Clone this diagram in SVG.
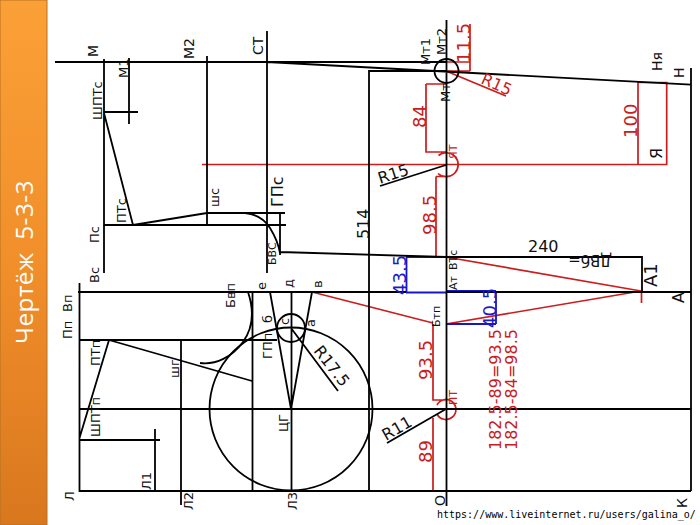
<svg xmlns="http://www.w3.org/2000/svg" width="700" height="525" viewBox="0 0 700 525">
<defs><linearGradient id="g" x1="0" y1="0" x2="0" y2="1"><stop offset="0" stop-color="#fba036"/><stop offset="0.5" stop-color="#f18f2b"/><stop offset="1" stop-color="#d9771f"/></linearGradient></defs>
<style>
.k{fill:none;stroke:#000;stroke-width:1.8}
.r{fill:none;stroke:#cc1c1c;stroke-width:1.7}
.b{fill:none;stroke:#1616c8;stroke-width:1.8}
text{font-family:"DejaVu Sans",sans-serif;fill:#111}
.tr{fill:#c82020}.tb{fill:#1a1ac8}
.s11{font-size:11px}.s12{font-size:12px}.s13{font-size:13px}.s14{font-size:14px}.s15{font-size:15px}.s16{font-size:16px}.s18{font-size:18px}
</style>
<rect width="700" height="525" fill="#fff"/>
<rect id="panel" x="0" y="0" width="47" height="525" fill="url(#g)" stroke="#b8701f" stroke-width="1"/>
<text id="title" transform="translate(33,344) rotate(-90)" style="font-family:'Open Sans',sans-serif;font-size:24.500px;letter-spacing:.4px;word-spacing:6px;fill:#fff">Чертёж 5-3-3</text>
<g id="connectors">
<path class="r" d="M202 164.500H666.700V82.500H638V164.500M446 62H470M446 71H470M470 24V71M446 71L506 96M426 84H446M426 84V152H446M436 176.500H446M436 176.500V257M312 292L433 323M446 324L641 291M446 257L641 291M641.500 292V303M433 324V400H446M433 418V490M438.500 155.500A12 12 0 1 1 438 173.500M437 405A10 10 0 1 1 437 414"/>
<path class="b" d="M406.500 257V292M406 257H446M406 292.500H446M496 291V324M446 291H496M446 324H496"/>
<path class="k" d="M55 62H447M104 59V273M129 58V124M104 112H138M104 113L133 225M104 225H286M207 56V225M267 31V273M267 62L691 84.700M691 68V491M369 491V71H446M446.500 20V506"/>
<path class="k" d="M133 225L207 213H245Q262 215 270 228T280 253M207 213H285M280 213V255M280 252L446 257H642V292M78 292H406M446 292H691M79.500 283V491H691M79 340H277M109 340L79.500 438M79 440H160M155 429V491M181 340V505M252.500 291V491M109 340L252 381M79 409H691M291.500 291V491M270 292L291 409L312 292M291 328L338 391M248 292C254 310 253 328 243 342C232 357 216 365 200 363"/>
<circle class="k" cx="291" cy="409" r="81.500"/><circle class="k" cx="291" cy="328" r="14"/><circle class="k" cx="446.500" cy="71" r="12"/>
<path class="k" d="M446 165L380 186M446 409L387 443"/>
</g>
<g id="labels">
<text class="s14" transform="translate(98,57) rotate(-90)">М</text>
<text class="s14" transform="translate(194,59) rotate(-90)">М2</text>
<text class="s14" transform="translate(263,55) rotate(-90)">СТ</text>
<text class="s13" transform="translate(128,78) rotate(-90)">М1</text>
<text class="s13" transform="translate(102,120) rotate(-90)">ШПТс</text>
<text class="s13" transform="translate(99,243) rotate(-90)">Пс</text>
<text class="s13" transform="translate(126,223) rotate(-90)">ПТс</text>
<text class="s13" transform="translate(219,207) rotate(-90)">шс</text>
<text class="s16" transform="translate(283,207) rotate(-90)">ГПс</text>
<text class="s11" transform="translate(276,265) rotate(-90)">БВС</text>
<text class="s13" transform="translate(99,283) rotate(-90)">Вс</text>
<text class="s13" transform="translate(72,312) rotate(-90)">Вп</text>
<text class="s13" transform="translate(72,339) rotate(-90)">Пп</text>
<text class="s13" transform="translate(100,366) rotate(-90)">ПТп</text>
<text class="s13" transform="translate(100,437) rotate(-90)">ШПТп</text>
<text class="s13" transform="translate(179,378) rotate(-90)">шг</text>
<text class="s13" transform="translate(235,308) rotate(-90)">Бвп</text>
<text class="s13" transform="translate(266,290) rotate(-90)">е</text>
<text class="s13" transform="translate(293,288) rotate(-90)">д</text>
<text class="s13" transform="translate(322,288) rotate(-90)">в</text>
<text class="s13" transform="translate(272,323) rotate(-90)">б</text>
<text class="s13" transform="translate(289,325) rotate(-90)">с</text>
<text class="s13" transform="translate(315,327) rotate(-90)">а</text>
<text class="s13" transform="translate(272,359) rotate(-90)">ГПп</text>
<text class="s13" transform="translate(151,490) rotate(-90)">Л1</text>
<text class="s13" transform="translate(74,501) rotate(-90)">Л</text>
<text class="s13" transform="translate(193,510) rotate(-90)">Л2</text>
<text class="s13" transform="translate(297,510) rotate(-90)">Л3</text>
<text class="s13" transform="translate(288,432) rotate(-90)">ЦГ</text>
<text class="s16" transform="translate(313,351) rotate(52)">R17.5</text>
<text class="s13" transform="translate(430,65) rotate(-90)">Мт1</text>
<text class="s13" transform="translate(446,55) rotate(-90)">Мт2</text>
<text class="s13" transform="translate(450,102) rotate(-90)">Мт</text>
<text class="s18 tr" transform="translate(470,63) rotate(-90)">11.5</text>
<text class="s16 tr" transform="translate(480,83) rotate(24)">R15</text>
<text class="s18 tr" transform="translate(426,128) rotate(-90)">84</text>
<text class="s18 tr" transform="translate(637,138) rotate(-90)">100</text>
<text class="s16" transform="translate(662,159) rotate(-90)">Я</text>
<text class="s14" transform="translate(662,71) rotate(-90)">Ня</text>
<text class="s14" transform="translate(684,78) rotate(-90)">Н</text>
<text class="s11 tr" transform="translate(457,159) rotate(-90)">ЯТ</text>
<text class="s18 tr" transform="translate(436,235) rotate(-90)">98.5</text>
<text class="s16" transform="translate(380,184) rotate(-18)">R15</text>
<text class="s16" transform="translate(369,239) rotate(-90)">514</text>
<text class="s16" x="528" y="252">240</text>
<text class="s15" transform="translate(612,255) rotate(180)">ДВб=</text>
<text class="s18" transform="translate(657,287) rotate(-90)">А1</text>
<text class="s16" transform="translate(684,303) rotate(-90)">А</text>
<text class="s11" transform="translate(457,270) rotate(-90)">ВТс</text>
<text class="s11" transform="translate(457,290) rotate(-90)">Ат</text>
<text class="s11" transform="translate(440,327) rotate(-90)">Бтп</text>
<text class="s18 tb" transform="translate(406,295) rotate(-90)">43.5</text>
<text class="s18 tb" transform="translate(496,328) rotate(-90)">40.5</text>
<text class="s18 tr" transform="translate(432,380) rotate(-90)">93.5</text>
<text class="s18 tr" transform="translate(432,463) rotate(-90)">89</text>
<text class="s11 tr" transform="translate(457,405) rotate(-90)">ПТ</text>
<text class="s16" transform="translate(386,441) rotate(-30)">R11</text>
<text class="s16 tr" transform="translate(501,450) rotate(-90)">182.5-89=93.5</text>
<text class="s16 tr" transform="translate(517,450) rotate(-90)">182.5-84=98.5</text>
<text class="s14" transform="translate(445,506) rotate(-90)">О</text>
<text class="s14" transform="translate(687,508) rotate(-90)">К</text>
<text x="437" y="518" style="font-family:'DejaVu Sans Mono',monospace;font-size:10px;fill:#000">https://www.liveinternet.ru/users/galina_o/</text>
</g>
</svg>
